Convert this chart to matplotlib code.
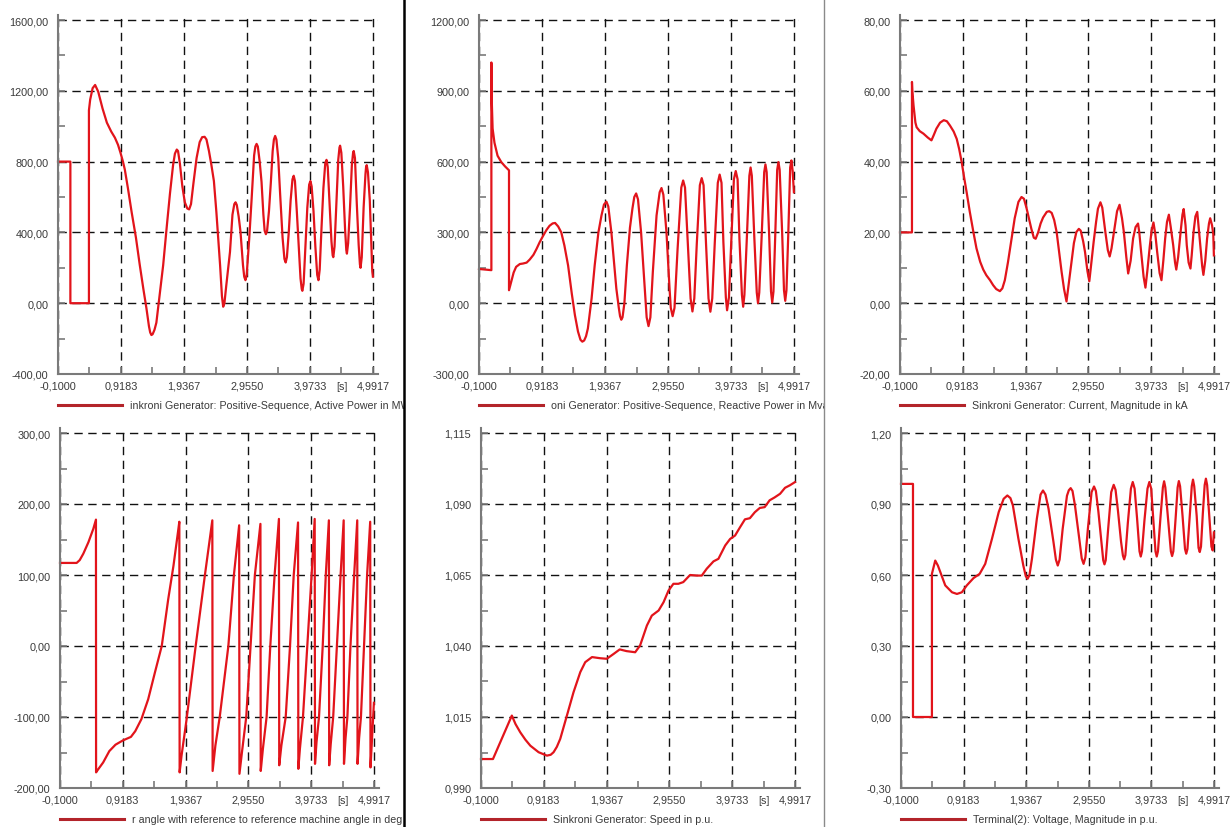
import numpy as np
import matplotlib
matplotlib.use("Agg")
import matplotlib.pyplot as plt
from matplotlib.lines import Line2D
from matplotlib.ticker import FixedLocator, FixedFormatter
from matplotlib.transforms import Bbox, TransformedBbox

plt.rcParams["font.family"] = ["Liberation Sans", "DejaVu Sans"]

W, H = 1232, 828

# time axis labels (s)
x_ticks = [-0.1, 0.9183, 1.9367, 2.9550, 3.9733, 4.9917]
x_labels = ["-0,1000", "0,9183", "1,9367", "2,9550", "3,9733", "4,9917"]

# (t, value) pairs
active_power = [
    (-0.1, 800), (0.1, 800), (0.1, 0), (0.4, 0), (0.4, 1090), (0.42, 1150), (0.46, 1215),
    (0.50, 1233), (0.55, 1195), (0.62, 1100), (0.69, 1020), (0.76, 970), (0.82, 935),
    (0.87, 895), (0.91, 850), (0.95, 800), (0.98, 755), (1.03, 650), (1.09, 515),
    (1.16, 370), (1.22, 220), (1.28, 80), (1.33, -30), (1.37, -130), (1.39, -165),
    (1.41, -180), (1.43, -175), (1.46, -150), (1.49, -110), (1.55, 70), (1.60, 215),
    (1.66, 440), (1.71, 620), (1.76, 780), (1.79, 845), (1.82, 868), (1.84, 860),
    (1.87, 790), (1.91, 660), (1.95, 570), (1.99, 535), (2.02, 530), (2.05, 560),
    (2.09, 680), (2.14, 820), (2.19, 910), (2.23, 938), (2.27, 940), (2.30, 925),
    (2.34, 860), (2.38, 780), (2.42, 690), (2.46, 515), (2.52, 215), (2.55, 40),
    (2.57, -20), (2.59, 0), (2.62, 100), (2.68, 290), (2.72, 500), (2.75, 560),
    (2.77, 570), (2.79, 555), (2.82, 490), (2.85, 403), (2.89, 215), (2.91, 150),
    (2.93, 130), (2.95, 160), (2.99, 360), (3.03, 590), (3.07, 835), (3.09, 885),
    (3.11, 900), (3.13, 885), (3.16, 800), (3.19, 685), (3.22, 500), (3.24, 410),
    (3.26, 390), (3.28, 410), (3.31, 520), (3.34, 680), (3.37, 860), (3.39, 925),
    (3.41, 945), (3.43, 925), (3.46, 820), (3.49, 620), (3.53, 370), (3.56, 250),
    (3.58, 230), (3.60, 260), (3.63, 400), (3.66, 580), (3.69, 700), (3.71, 720),
    (3.73, 690), (3.76, 520), (3.79, 330), (3.82, 140), (3.84, 80), (3.85, 70),
    (3.87, 110), (3.90, 320), (3.93, 540), (3.96, 670), (3.98, 690), (4.00, 660),
    (4.03, 520), (4.06, 320), (4.09, 160), (4.11, 130), (4.13, 190), (4.16, 430),
    (4.19, 650), (4.22, 790), (4.24, 810), (4.26, 770), (4.29, 560), (4.32, 350),
    (4.34, 270), (4.35, 260), (4.37, 320), (4.40, 560), (4.43, 810), (4.45, 880),
    (4.46, 890), (4.48, 850), (4.51, 660), (4.54, 420), (4.56, 300), (4.57, 280),
    (4.59, 340), (4.62, 540), (4.65, 780), (4.67, 850), (4.68, 860), (4.70, 820),
    (4.73, 560), (4.76, 330), (4.78, 220), (4.79, 200), (4.81, 260), (4.84, 540),
    (4.87, 730), (4.88, 770), (4.89, 780), (4.91, 740), (4.94, 580), (4.96, 380),
    (4.98, 180), (4.99, 150),
]

reactive_power = [
    (-0.1, 145), (0.1, 140), (0.1, 1020), (0.105, 870), (0.12, 740), (0.15, 680),
    (0.20, 625), (0.26, 598), (0.32, 580), (0.385, 563), (0.385, 55), (0.42, 90),
    (0.46, 130), (0.50, 154), (0.56, 166), (0.61, 168), (0.67, 172), (0.72, 185),
    (0.78, 205), (0.83, 230), (0.88, 258), (0.935, 285), (0.99, 310), (1.04, 328),
    (1.09, 338), (1.13, 340), (1.18, 325), (1.23, 300), (1.28, 245), (1.34, 160),
    (1.40, 40), (1.45, -50), (1.50, -120), (1.54, -155), (1.57, -163), (1.60, -158),
    (1.63, -140), (1.66, -107), (1.72, 20), (1.77, 160), (1.83, 300), (1.88, 372),
    (1.92, 418), (1.96, 430), (1.99, 410), (2.04, 300), (2.08, 180), (2.12, 62),
    (2.16, -20), (2.18, -55), (2.20, -70), (2.22, -60), (2.25, 0), (2.29, 160),
    (2.34, 320), (2.38, 401), (2.41, 450), (2.44, 465), (2.47, 440), (2.52, 300),
    (2.58, 62), (2.61, -60), (2.64, -97), (2.67, -60), (2.71, 133), (2.77, 372),
    (2.82, 470), (2.85, 488), (2.88, 460), (2.93, 302), (2.98, 62), (3.00, -20),
    (3.03, -55), (3.06, -20), (3.11, 230), (3.17, 490), (3.20, 520), (3.23, 490),
    (3.28, 230), (3.32, 20), (3.35, -35), (3.38, 20), (3.42, 250), (3.47, 500),
    (3.50, 530), (3.53, 500), (3.57, 250), (3.61, 20), (3.64, -36), (3.67, 20),
    (3.71, 250), (3.76, 510), (3.79, 545), (3.82, 510), (3.85, 260), (3.89, 25),
    (3.91, -30), (3.94, 25), (3.98, 270), (4.02, 525), (4.05, 560), (4.08, 525),
    (4.11, 270), (4.15, 35), (4.17, -15), (4.19, 35), (4.23, 280), (4.27, 540),
    (4.29, 575), (4.31, 540), (4.35, 280), (4.39, 45), (4.41, 0), (4.43, 45),
    (4.47, 290), (4.51, 555), (4.53, 588), (4.55, 555), (4.59, 290), (4.62, 50),
    (4.64, 3), (4.66, 50), (4.69, 300), (4.72, 565), (4.74, 598), (4.76, 565),
    (4.80, 300), (4.83, 55), (4.85, 10), (4.87, 55), (4.90, 300), (4.93, 575),
    (4.95, 605), (4.97, 560), (4.99, 470),
]

current_ka = [
    (-0.1, 20), (0.094, 20), (0.094, 62.5), (0.10, 60), (0.12, 55.8), (0.15, 51),
    (0.17, 49.7), (0.22, 48.6), (0.28, 47.9), (0.35, 46.8), (0.41, 46), (0.45, 47.6),
    (0.49, 49.3), (0.55, 51), (0.61, 51.7), (0.66, 51.4), (0.71, 50.2), (0.77, 48.5),
    (0.82, 46.4), (0.86, 43.5), (0.90, 39.9), (0.94, 35.5), (0.98, 31.4), (1.03, 26),
    (1.09, 20.1), (1.14, 15.5), (1.20, 11.7), (1.25, 9.5), (1.30, 7.9), (1.36, 6.5),
    (1.41, 5.1), (1.46, 4), (1.52, 3.4), (1.56, 4.2), (1.60, 6.5), (1.65, 11.5),
    (1.71, 18.3), (1.76, 24), (1.82, 28.6), (1.87, 30), (1.91, 29.5), (1.95, 27),
    (1.98, 24.8), (2.03, 21), (2.07, 18.5), (2.10, 18.2), (2.14, 20), (2.18, 22.5),
    (2.22, 24.2), (2.28, 25.8), (2.32, 26), (2.36, 25.5), (2.40, 23.5), (2.44, 20.1),
    (2.48, 14.5), (2.52, 8.9), (2.56, 4), (2.60, 0.5), (2.64, 6), (2.68, 11.7),
    (2.72, 17), (2.76, 20.1), (2.80, 21), (2.83, 20.5), (2.87, 17.5), (2.90, 14.5),
    (2.94, 9), (2.97, 6.2), (3.00, 11), (3.04, 17.3), (3.08, 23), (3.11, 26.7),
    (3.15, 28.5), (3.18, 27), (3.23, 20.1), (3.27, 15), (3.30, 13.2), (3.33, 15.5),
    (3.37, 20.1), (3.42, 26), (3.46, 27.8), (3.50, 24), (3.53, 20.1), (3.57, 13),
    (3.60, 8.4), (3.64, 12), (3.68, 18.3), (3.72, 21.5), (3.76, 22.5), (3.78, 20),
    (3.81, 14.5), (3.85, 7.5), (3.88, 4.4), (3.91, 9), (3.95, 16), (3.98, 20.5),
    (4.01, 22.8), (4.04, 19.5), (4.07, 14.5), (4.11, 8.5), (4.14, 6.5), (4.17, 12),
    (4.20, 18.3), (4.23, 23), (4.26, 25), (4.29, 21.5), (4.33, 16.4), (4.36, 11.5),
    (4.38, 9.5), (4.41, 13), (4.45, 20.1), (4.48, 25), (4.50, 26.6), (4.53, 22),
    (4.55, 16.4), (4.58, 11.5), (4.61, 9.8), (4.63, 13.5), (4.66, 20.1), (4.69, 24.5),
    (4.72, 25.8), (4.74, 22), (4.77, 16.4), (4.80, 10.5), (4.82, 8), (4.85, 12),
    (4.88, 18.3), (4.91, 22.5), (4.93, 24), (4.96, 22), (4.98, 19.5), (4.99, 13.5),
]

rotor_angle = [
    (-0.1, 117), (0.17, 117), (0.22, 121), (0.278, 130), (0.36, 146), (0.44, 165),
    (0.483, 178), (0.485, -178), (0.50, -176), (0.55, -170), (0.60, -164), (0.70, -148),
    (0.80, -139), (0.92, -133), (1.05, -128), (1.12, -120), (1.22, -103), (1.33, -75),
    (1.44, -37), (1.55, 0), (1.655, 66), (1.74, 113), (1.82, 165), (1.835, 175),
    (1.84, -178), (1.87, -155), (1.95, -105), (2.10, 0), (2.25, 100), (2.37, 177),
    (2.375, -176), (2.42, -140), (2.49, -100), (2.63, 0), (2.72, 100), (2.805, 170),
    (2.81, -180), (2.85, -150), (2.92, -100), (2.99, 0), (3.06, 100), (3.15, 172),
    (3.155, -176), (3.19, -145), (3.25, -100), (3.31, 0), (3.38, 100), (3.45, 179),
    (3.455, -168), (3.49, -140), (3.56, -100), (3.63, 0), (3.69, 100), (3.76, 174),
    (3.765, -173), (3.79, -145), (3.84, -100), (3.91, 0), (3.98, 100), (4.03, 179),
    (4.035, -166), (4.06, -135), (4.10, -100), (4.16, 0), (4.21, 100), (4.26, 177),
    (4.265, -168), (4.29, -138), (4.33, -100), (4.39, 0), (4.45, 100), (4.50, 177),
    (4.505, -166), (4.53, -130), (4.56, -100), (4.61, 0), (4.67, 100), (4.72, 177),
    (4.725, -166), (4.75, -130), (4.78, -100), (4.83, 0), (4.88, 100), (4.93, 175),
    (4.935, -171), (4.96, -130), (4.99, -80),
]

speed_pu = [
    (-0.1, 1.0002), (0.094, 1.0002), (0.20, 1.0055), (0.30, 1.0105), (0.40, 1.0155),
    (0.46, 1.0125), (0.537, 1.0096), (0.62, 1.0070), (0.70, 1.0049), (0.834, 1.0026),
    (0.969, 1.0014), (1.03, 1.0017), (1.077, 1.0026), (1.13, 1.0045), (1.185, 1.0073),
    (1.293, 1.0155), (1.40, 1.0237), (1.51, 1.0308), (1.59, 1.0343), (1.70, 1.0361),
    (1.83, 1.0357), (1.94, 1.0355), (2.05, 1.0372), (2.15, 1.0388), (2.26, 1.0382),
    (2.40, 1.0378), (2.48, 1.0402), (2.59, 1.0472), (2.67, 1.0507), (2.78, 1.0525),
    (2.86, 1.0554), (2.94, 1.0595), (3.02, 1.0619), (3.10, 1.0619), (3.18, 1.0625),
    (3.29, 1.0650), (3.40, 1.0648), (3.48, 1.0648), (3.56, 1.0672), (3.67, 1.0698),
    (3.75, 1.0707), (3.86, 1.0754), (3.94, 1.0777), (4.02, 1.0789), (4.10, 1.0818),
    (4.18, 1.0846), (4.26, 1.0850), (4.34, 1.0871), (4.42, 1.0886), (4.50, 1.0889),
    (4.58, 1.0913), (4.66, 1.0923), (4.75, 1.0936), (4.83, 1.0957), (4.91, 1.0966),
    (4.99, 1.0977),
]

terminal_voltage = [
    (-0.1, 0.985), (0.095, 0.985), (0.095, 0.0), (0.403, 0.0), (0.403, 0.605),
    (0.457, 0.661), (0.50, 0.640), (0.54, 0.612), (0.62, 0.556), (0.73, 0.527),
    (0.81, 0.520), (0.89, 0.527), (0.97, 0.556), (1.08, 0.587), (1.18, 0.605),
    (1.27, 0.647), (1.38, 0.753), (1.49, 0.866), (1.57, 0.922), (1.63, 0.936),
    (1.68, 0.925), (1.72, 0.894), (1.81, 0.753), (1.89, 0.640), (1.93, 0.595),
    (1.96, 0.584), (1.99, 0.600), (2.03, 0.668), (2.11, 0.838), (2.17, 0.940),
    (2.21, 0.957), (2.25, 0.940), (2.30, 0.880), (2.38, 0.740), (2.42, 0.665),
    (2.45, 0.640), (2.48, 0.665), (2.53, 0.795), (2.60, 0.935), (2.63, 0.958),
    (2.66, 0.967), (2.69, 0.955), (2.73, 0.894), (2.80, 0.753), (2.84, 0.670),
    (2.87, 0.647), (2.90, 0.675), (2.94, 0.795), (3.00, 0.950), (3.04, 0.974),
    (3.07, 0.955), (3.11, 0.870), (3.16, 0.740), (3.19, 0.662), (3.21, 0.645),
    (3.23, 0.662), (3.27, 0.795), (3.32, 0.950), (3.36, 0.981), (3.39, 0.960),
    (3.43, 0.870), (3.48, 0.740), (3.51, 0.682), (3.53, 0.666), (3.55, 0.684),
    (3.59, 0.820), (3.64, 0.965), (3.67, 0.993), (3.70, 0.965), (3.74, 0.840),
    (3.78, 0.700), (3.80, 0.678), (3.82, 0.700), (3.86, 0.830), (3.91, 0.965),
    (3.94, 0.993), (3.97, 0.965), (4.00, 0.850), (4.04, 0.700), (4.06, 0.678),
    (4.08, 0.700), (4.12, 0.840), (4.16, 0.970), (4.18, 0.996), (4.20, 0.970),
    (4.24, 0.850), (4.29, 0.700), (4.31, 0.680), (4.33, 0.700), (4.37, 0.850),
    (4.40, 0.970), (4.42, 0.997), (4.44, 0.975), (4.48, 0.850), (4.52, 0.710),
    (4.54, 0.690), (4.56, 0.710), (4.60, 0.860), (4.63, 0.975), (4.65, 1.003),
    (4.67, 0.975), (4.71, 0.850), (4.74, 0.715), (4.76, 0.697), (4.78, 0.720),
    (4.81, 0.860), (4.84, 0.980), (4.86, 1.007), (4.88, 0.980), (4.92, 0.830),
    (4.95, 0.720), (4.97, 0.704), (4.99, 0.780),
]

legend_texts = [
    "inkroni Generator: Positive-Sequence, Active Power in MW",
    "oni Generator: Positive-Sequence, Reactive Power in Mvar",
    "Sinkroni Generator: Current, Magnitude in kA",
    "r angle with reference to reference machine angle in deg",
    "Sinkroni Generator: Speed in p.u.",
    "Terminal(2): Voltage, Magnitude in p.u.",
]

# y range (low, high), major step, decimals
y_setup = [
    (-400, 1600, 400, 2),
    (-300, 1200, 300, 2),
    (-20, 80, 20, 2),
    (-200, 300, 100, 2),
    (0.990, 1.115, 0.025, 3),
    (-0.30, 1.20, 0.30, 2),
]

series = [active_power, reactive_power, current_ka, rotor_angle, speed_pu, terminal_voltage]

# pixel boxes: left, right (4.9917), top (max), bottom (min), caption clip edge
boxes = [
    (58, 373, 21, 375, 404),
    (479, 794, 21, 375, 824),
    (900, 1214, 21, 375, 1232),
    (60, 374, 434, 789, 404),
    (481, 795, 434, 789, 824),
    (901, 1214, 434, 789, 1232),
]

red = "#e2141b"
grey = "#7a7a7a"
txt = "#3a3a3a"

fig = plt.figure(figsize=(W / 100, H / 100), dpi=100)

x_minor = [(a + b) / 2 for a, b in zip(x_ticks[:-1], x_ticks[1:])]
x_span = x_ticks[-1] - x_ticks[0]

for i, (data, (lo, hi, step, dec), (x0, x1, yt, yb, clip_r)) in enumerate(zip(series, y_setup, boxes)):
    ext = 5
    w_px = x1 - x0 + ext
    h_px = yb - yt + ext
    ax = fig.add_axes([x0 / W, 1 - yb / H, w_px / W, h_px / H])
    ax.set_xlim(x_ticks[0], x_ticks[-1] + x_span * ext / (x1 - x0))
    ax.set_ylim(lo, hi + (hi - lo) * ext / (yb - yt))

    arr = np.array(data)
    ax.plot(arr[:, 0], arr[:, 1], color=red, lw=1.6, zorder=3, clip_on=False)

    for s in ["top", "right"]:
        ax.spines[s].set_visible(False)
    for s in ["left", "bottom"]:
        ax.spines[s].set_color(grey)
        ax.spines[s].set_linewidth(1.5)
        ax.spines[s].set_zorder(4)

    y_major = [lo + k * step for k in range(6)]
    y_minor = [lo + (k + 0.5) * step for k in range(5)]
    ax.yaxis.set_major_locator(FixedLocator(y_major))
    ax.yaxis.set_major_formatter(FixedFormatter([f"{v:.{dec}f}".replace(".", ",") for v in y_major]))
    ax.yaxis.set_minor_locator(FixedLocator(y_minor))

    ax.xaxis.set_major_locator(FixedLocator(x_ticks))
    ax.xaxis.set_major_formatter(FixedFormatter(x_labels))
    ax.xaxis.set_minor_locator(FixedLocator(x_minor))
    ax.xaxis.set_minor_formatter(FixedFormatter(["", "", "", "", "[s]"]))

    ax.tick_params(which="both", direction="in", length=5, width=1.2, color=grey,
                   labelsize=7.8, labelcolor=txt)
    ax.tick_params(axis="x", which="both", pad=5)
    ax.tick_params(axis="y", which="both", pad=7)

    ax.grid(True, which="major", color="#111111", lw=1.0, linestyle=(0, (6, 4)), zorder=1)
    ax.set_axisbelow(True)

    # legend line and clipped caption below the axis
    ly = -31 / h_px
    ax.plot([0, 64 / w_px], [ly, ly], transform=ax.transAxes, color="#b3242a",
            lw=2.2, clip_on=False)
    t = ax.text(72 / w_px, ly, legend_texts[i], transform=ax.transAxes,
                fontsize=7.7, color=txt, va="center", ha="left")
    clip = TransformedBbox(Bbox([[0, 0], [clip_r / W, 1]]), fig.transFigure)
    t.set_clip_box(clip)
    t.set_clip_on(True)

# panel dividers
fig.add_artist(Line2D([403.5 / W] * 2, [0, 1], transform=fig.transFigure, color="black", lw=1.8))
fig.add_artist(Line2D([824 / W] * 2, [0, 1], transform=fig.transFigure, color="#8a8a8a", lw=1.0))

fig.savefig("out.png", dpi=100, facecolor="white")
